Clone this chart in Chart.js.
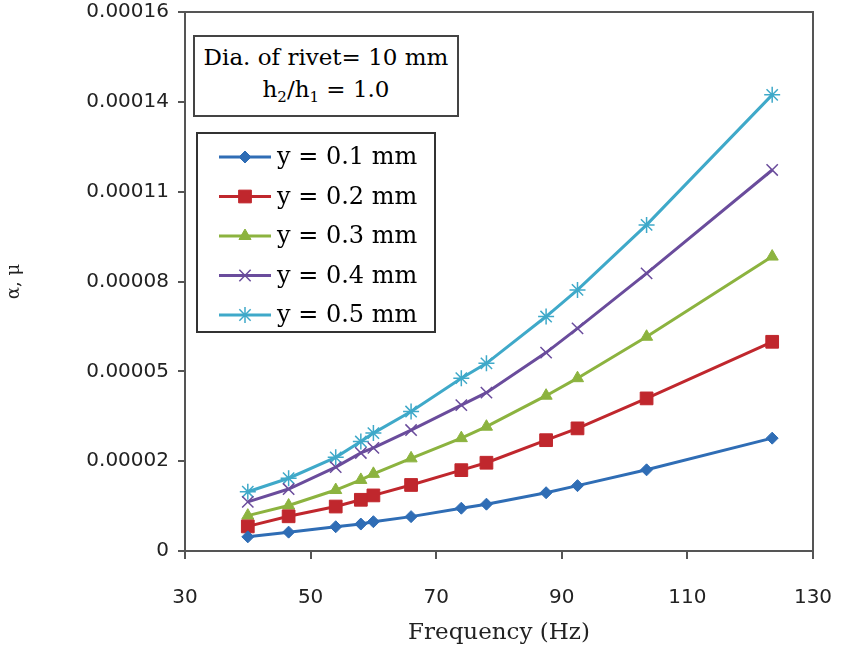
<!DOCTYPE html>
<html>
<head>
<meta charset="utf-8">
<script src="https://cdn.jsdelivr.net/npm/chart.js@4.4.0/dist/chart.umd.min.js"></script>
<style>
  body { margin: 0; background: #fff; }
  #wrap { position: relative; width: 843px; height: 661px; }
  #note {
    position: absolute; left: 193px; top: 35px; width: 262px; height: 74px;
    border: 2px solid #444; background: #fff; box-sizing: content-box;
    font-family: "DejaVu Serif", serif; font-size: 23px; line-height: 32px;
    text-align: center; color: #000; padding-top: 4px;
  }
  #note sub { font-size: 15px; line-height: 0; vertical-align: -5px; }
</style>
</head>
<body>
<div id="wrap">
  <canvas id="chart"></canvas>
  <div id="note">Dia. of rivet= 10 mm<br>h<sub>2</sub>/h<sub>1</sub> = 1.0</div>
</div>
<script>
// Frequency (Hz)
const freq = [40, 46.5, 54, 58, 60, 66, 74, 78, 87.5, 92.5, 103.5, 123.5];

// alpha values for each y
const y01 = [4.2e-6, 5.6e-6, 7.2e-6, 8.0e-6, 8.7e-6, 10.2e-6, 12.7e-6, 13.9e-6, 17.3e-6, 19.4e-6, 24.1e-6, 33.5e-6];
const y02 = [7.3e-6, 10.3e-6, 13.2e-6, 15.2e-6, 16.5e-6, 19.6e-6, 24.0e-6, 26.2e-6, 32.9e-6, 36.4e-6, 45.3e-6, 62.1e-6];
const y03 = [10.5e-6, 13.5e-6, 18.1e-6, 21.1e-6, 22.9e-6, 27.5e-6, 33.5e-6, 36.9e-6, 46.1e-6, 51.3e-6, 63.6e-6, 87.4e-6];
const y04 = [14.6e-6, 18.4e-6, 24.9e-6, 29.1e-6, 30.6e-6, 35.9e-6, 43.3e-6, 47.0e-6, 58.9e-6, 66.1e-6, 82.4e-6, 113.1e-6];
const y05 = [17.6e-6, 21.6e-6, 27.8e-6, 32.5e-6, 35.0e-6, 41.4e-6, 51.3e-6, 55.7e-6, 69.6e-6, 77.5e-6, 96.8e-6, 135.4e-6];

const seriesLabels = ['y = 0.1 mm', 'y = 0.2 mm', 'y = 0.3 mm', 'y = 0.4 mm', 'y = 0.5 mm'];

// axis ticks as printed on the original
const yMax = 0.00016;
const yTickLabels = ['0', '0.00002', '0.00005', '0.00008', '0.00011', '0.00014', '0.00016'];
const xMin = 30, xMax = 130, xStep = 20;

function toPoints(ys) {
  return freq.map((f, i) => ({ x: f, y: ys[i] }));
}

function makeSet(label, ys, color, style, radius, bw) {
  return {
    label: label,
    data: toPoints(ys),
    borderColor: color,
    backgroundColor: color,
    borderWidth: 3,
    pointStyle: style,
    pointRadius: radius,
    pointBorderWidth: bw,
    pointBackgroundColor: color,
    pointBorderColor: color,
    tension: 0
  };
}

// no extra room for overhanging tick labels, layout padding decides
function noOverhang(axis) {
  axis.paddingLeft = 0;
  axis.paddingRight = 0;
  axis.paddingTop = 0;
  axis.paddingBottom = 0;
}

// plot frame
const frame = {
  id: 'frame',
  beforeDatasetsDraw(chart) {
    const a = chart.chartArea, ctx = chart.ctx;
    ctx.save();
    ctx.strokeStyle = '#555';
    ctx.lineWidth = 2;
    ctx.strokeRect(a.left, a.top, a.right - a.left, a.bottom - a.top);
    ctx.restore();
  }
};

// legend box inside the plot
const boxLegend = {
  id: 'boxLegend',
  afterDraw(chart) {
    const a = chart.chartArea, ctx = chart.ctx;
    const x = a.left + 12, y = a.top + 121, w = 238, h = 199;
    ctx.save();
    ctx.fillStyle = '#fff';
    ctx.fillRect(x, y, w, h);
    ctx.strokeStyle = '#333';
    ctx.lineWidth = 2;
    ctx.strokeRect(x, y, w, h);
    chart.data.datasets.forEach((ds, i) => {
      const cy = y + 24 + i * 39.5;
      ctx.strokeStyle = ds.borderColor;
      ctx.lineWidth = 3;
      ctx.beginPath();
      ctx.moveTo(x + 22, cy);
      ctx.lineTo(x + 74, cy);
      ctx.stroke();
      ctx.fillStyle = ds.pointBackgroundColor;
      ctx.strokeStyle = ds.pointBorderColor;
      ctx.lineWidth = ds.pointBorderWidth;
      Chart.helpers.drawPoint(ctx, { pointStyle: ds.pointStyle, radius: ds.pointRadius, rotation: 0, borderWidth: ds.pointBorderWidth }, x + 48, cy);
      ctx.fillStyle = '#000';
      ctx.font = '24px "DejaVu Serif"';
      ctx.textBaseline = 'middle';
      ctx.fillText(ds.label, x + 80, cy + 1);
    });
    ctx.restore();
  }
};

new Chart(document.getElementById('chart'), {
  type: 'line',
  data: {
    datasets: [
      makeSet(seriesLabels[0], y01, '#2F6DB5', 'rectRot', 6, 1),
      makeSet(seriesLabels[1], y02, '#C0272D', 'rect', 9, 1),
      makeSet(seriesLabels[2], y03, '#8CB33F', 'triangle', 7, 1),
      makeSet(seriesLabels[3], y04, '#6A4C9C', 'crossRot', 8, 1.5),
      makeSet(seriesLabels[4], y05, '#3FA9C9', 'star', 8, 1.5)
    ]
  },
  options: {
    responsive: true,
    maintainAspectRatio: false,
    animation: false,
    layout: { padding: { left: 0, top: 12, right: 30, bottom: 0 } },
    plugins: {
      legend: { display: false },
      tooltip: { enabled: false }
    },
    scales: {
      x: {
        type: 'linear',
        min: xMin,
        max: xMax,
        ticks: {
          stepSize: xStep,
          color: '#222',
          font: { family: 'DejaVu Sans', size: 20 },
          padding: 27,
          maxRotation: 0
        },
        grid: { display: true, drawOnChartArea: false, drawTicks: true, tickLength: 8, color: '#555', lineWidth: 2 },
        border: { display: false },
        title: {
          display: true,
          text: 'Frequency (Hz)',
          color: '#222',
          font: { family: 'DejaVu Serif', size: 23 },
          padding: { top: 0, bottom: 14 }
        },
        afterFit(axis) { axis.height = 110; noOverhang(axis); }
      },
      y: {
        type: 'linear',
        min: 0,
        max: yMax,
        afterBuildTicks(axis) {
          axis.ticks = yTickLabels.map((_, i) => ({ value: yMax * i / (yTickLabels.length - 1) }));
        },
        ticks: {
          color: '#222',
          font: { family: 'DejaVu Sans', size: 20 },
          padding: 9,
          callback: (value, index) => yTickLabels[index]
        },
        grid: { display: true, drawOnChartArea: false, drawTicks: true, tickLength: 7, color: '#555', lineWidth: 2 },
        border: { display: false },
        title: {
          display: true,
          text: 'α, μ',
          color: '#222',
          font: { family: 'DejaVu Serif', size: 18 },
          padding: { top: 4, bottom: 0 }
        },
        afterFit(axis) { axis.width = 185; noOverhang(axis); }
      }
    }
  },
  plugins: [frame, boxLegend]
});
</script>
</body>
</html>
